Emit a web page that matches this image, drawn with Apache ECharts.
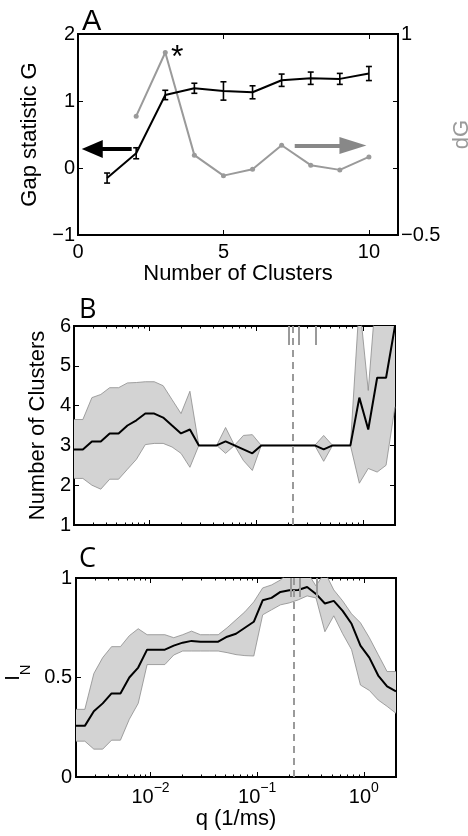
<!DOCTYPE html>
<html>
<head>
<meta charset="utf-8">
<script src="https://cdn.jsdelivr.net/npm/echarts@6/dist/echarts.min.js"></script>
<style>
  html, body { margin: 0; padding: 0; background: #fff; }
  #chart { width: 468px; height: 836px; }
</style>
</head>
<body>
<div id="chart"></div>
<script>
// ---- panel A: gap statistic ----
var nClusters = [1, 2, 3, 4, 5, 6, 7, 8, 9, 10];
var gapG = [-0.15, 0.22, 1.09, 1.19, 1.15, 1.13, 1.31, 1.34, 1.33, 1.41];
var gapErr = [0.075, 0.082, 0.07, 0.075, 0.137, 0.097, 0.092, 0.092, 0.082, 0.105];
var dGx = [2, 3, 4, 5, 6, 7, 8, 9, 10];
var dGv = [0.387, 0.862, 0.096, -0.057, -0.009, 0.17, 0.021, -0.014, 0.083];
// arrows: [tail x, head x, y on left axis]
var arrowLeft = [1.845, 0.49, 0.285];
var arrowRight = [7.45, 9.45, 0.335];

// ---- panels B and C: vs q (1/ms) ----
var qVals = [0.00200, 0.00242, 0.00294, 0.00356, 0.00431, 0.00522, 0.00632, 0.00766, 0.00928,
  0.01125, 0.01362, 0.01650, 0.02000, 0.02423, 0.02936, 0.03557, 0.04310, 0.05221, 0.06325,
  0.07663, 0.09284, 0.1125, 0.1362, 0.1650, 0.2000, 0.2423, 0.2936, 0.3557, 0.4310, 0.5221,
  0.6325, 0.7663, 0.9284, 1.125, 1.362, 1.650, 2.000];

var nClustMean = [2.9, 2.9, 3.1, 3.1, 3.3, 3.3, 3.5, 3.63, 3.8, 3.8, 3.7, 3.5, 3.3, 3.4, 3.0, 3.0, 3.0, 3.1, 3.0,
  2.9, 2.8, 3.0, 3.0, 3.0, 3.0, 3.0, 3.0, 3.0, 2.9, 3.0, 3.0, 3.0, 4.2, 3.4, 4.7, 4.7, 6.0];
var nClustHi = [3.65, 3.65, 4.2, 4.28, 4.45, 4.45, 4.57, 4.58, 4.6, 4.6, 4.5, 4.15, 3.8, 4.36, 3.0, 3.0, 3.0, 3.45, 3.0,
  3.25, 3.27, 3.0, 3.0, 3.0, 3.0, 3.0, 3.0, 3.0, 3.25, 3.0, 3.0, 3.0, 6.6, 4.38, 7.2, 7.5, 7.5];
var nClustLo = [2.17, 2.17, 2.0, 1.9, 2.15, 2.15, 2.4, 2.65, 3.02, 3.05, 3.05, 2.96, 2.8, 2.45, 3.0, 3.0, 3.0, 2.8, 3.0,
  2.62, 2.37, 3.0, 3.0, 3.0, 3.0, 3.0, 3.0, 3.0, 2.6, 3.0, 3.0, 3.0, 2.05, 2.42, 2.33, 2.5, 3.97];

var infoMean = [0.257, 0.257, 0.33, 0.37, 0.42, 0.42, 0.50, 0.55, 0.64, 0.64, 0.64, 0.66, 0.675, 0.684, 0.68, 0.68, 0.68, 0.705, 0.72,
  0.75, 0.78, 0.888, 0.90, 0.93, 0.938, 0.94, 0.955, 0.92, 0.872, 0.885, 0.835, 0.77, 0.66, 0.60, 0.51, 0.455, 0.43];
var infoHi = [0.34, 0.34, 0.52, 0.60, 0.655, 0.655, 0.71, 0.745, 0.715, 0.715, 0.715, 0.70, 0.715, 0.733, 0.715, 0.715, 0.715, 0.75, 0.79,
  0.83, 0.88, 0.95, 0.965, 0.99, 1.03, 1.04, 1.03, 0.96, 1.03, 0.94, 0.885, 0.82, 0.775, 0.70, 0.615, 0.53, 0.53];
var infoLo = [0.18, 0.18, 0.14, 0.14, 0.185, 0.185, 0.29, 0.37, 0.565, 0.565, 0.565, 0.613, 0.633, 0.633, 0.633, 0.633, 0.633, 0.625, 0.615,
  0.61, 0.608, 0.815, 0.84, 0.865, 0.875, 0.89, 0.91, 0.90, 0.73, 0.81, 0.72, 0.64, 0.462, 0.435, 0.387, 0.355, 0.32];

var qDashed = 0.223;
var qMarks = [0.205, 0.25, 0.36];

var qMajor = [0.01, 0.1, 1];
var qMinor = [0.003, 0.004, 0.005, 0.006, 0.007, 0.008, 0.009,
  0.02, 0.03, 0.04, 0.05, 0.06, 0.07, 0.08, 0.09,
  0.2, 0.3, 0.4, 0.5, 0.6, 0.7, 0.8, 0.9];

var FONT = 'Liberation Sans';
var BAND = '#d3d3d3';
var EDGE = '#8c8c8c';
var GRAY = '#9a9a9a';

function minus(v) { return String(v).replace('-', '\u2212'); }
function pairs(xs, ys) { return xs.map(function (x, i) { return [x, ys[i]]; }); }
function ticks(len, custom) {
  var t = { show: true, inside: true, length: len, lineStyle: { color: '#000', width: 1 } };
  if (custom) t.customValues = custom;
  return t;
}
var noLine = { show: false, onZero: false };

// log x axes (major + minor, bottom + top) for one grid
function logAxes(grid, withLabels) {
  var base = { type: 'log', logBase: 10, min: 0.002, max: 2, gridIndex: grid,
    axisLine: noLine, splitLine: { show: false } };
  var lab = { show: false };
  if (withLabels) {
    lab = {
      show: true, customValues: qMajor, margin: 4,
      formatter: function (v) { return '{b|10}{s|' + minus(Math.round(Math.log10(v))) + '}'; },
      rich: {
        b: { fontSize: 20, fontFamily: FONT, color: '#000', padding: [6, 0, 0, 0], verticalAlign: 'bottom' },
        s: { fontSize: 14, fontFamily: FONT, color: '#000', verticalAlign: 'top' }
      }
    };
  }
  return [
    Object.assign({}, base, { position: 'bottom', axisTick: ticks(5, qMajor), axisLabel: lab }),
    Object.assign({}, base, { position: 'bottom', axisTick: ticks(2.5, qMinor), axisLabel: { show: false } }),
    Object.assign({}, base, { position: 'top', axisTick: ticks(5, qMajor), axisLabel: { show: false } }),
    Object.assign({}, base, { position: 'top', axisTick: ticks(2.5, qMinor), axisLabel: { show: false } })
  ];
}

function markLines(top, len) {
  return {
    silent: true, animation: false, symbol: 'none', label: { show: false },
    lineStyle: { color: GRAY, width: 2, type: 'solid' },
    data: [{ xAxis: qDashed, lineStyle: { type: [7, 5], color: GRAY, width: 2 } }].concat(
      qMarks.map(function (q) { return [{ coord: [q, top] }, { coord: [q, top - len] }]; }))
  };
}

// shaded band (lo..hi) as one polygon, its two thin edges, and the mean line
function bandSeries(xi, yi, lo, hi, mean, marks) {
  return [
    { type: 'custom', xAxisIndex: xi, yAxisIndex: yi, clip: true, silent: true, z: 1,
      data: qVals.map(function (q, i) { return [q, lo[i], hi[i]]; }),
      encode: { x: 0, y: [1, 2] },
      renderItem: function (params, api) {
        if (params.dataIndex !== 0) return;
        var pts = [], i;
        for (i = 0; i < qVals.length; i++) pts.push(api.coord([qVals[i], hi[i]]));
        for (i = qVals.length - 1; i >= 0; i--) pts.push(api.coord([qVals[i], lo[i]]));
        var cs = params.coordSys;
        return { type: 'polygon', shape: { points: pts }, style: { fill: BAND, stroke: null },
          clipPath: { type: 'rect', shape: { x: cs.x, y: cs.y, width: cs.width, height: cs.height } } };
      } },
    { type: 'line', xAxisIndex: xi, yAxisIndex: yi, data: pairs(qVals, lo),
      symbol: 'none', lineStyle: { color: EDGE, width: 0.8 }, animation: false, z: 2 },
    { type: 'line', xAxisIndex: xi, yAxisIndex: yi, data: pairs(qVals, hi),
      symbol: 'none', lineStyle: { color: EDGE, width: 0.8 }, animation: false, z: 2 },
    { type: 'line', xAxisIndex: xi, yAxisIndex: yi, data: pairs(qVals, mean),
      symbol: 'none', lineStyle: { color: '#000', width: 2 }, animation: false, z: 3,
      markLine: marks }
  ];
}

var axisName = { fontSize: 22, fontFamily: FONT, color: '#000' };
var tickLab = { fontSize: 20, fontFamily: FONT, color: '#000' };

var option = {
  backgroundColor: '#fff',
  animation: false,
  textStyle: { fontFamily: FONT },
  title: [
    { text: 'A', left: 77, top: 2, textStyle: { fontSize: 29, fontWeight: 'normal', fontFamily: FONT, color: '#000' } },
    { text: 'B', left: 74, top: 292, textStyle: { fontSize: 27, fontWeight: 'normal', fontFamily: 'Open Sans', color: '#000' } },
    { text: 'C', left: 74, top: 541, textStyle: { fontSize: 27, fontWeight: 'normal', fontFamily: 'Open Sans', color: '#000' } }
  ],
  grid: [
    { left: 78, top: 34, width: 320, height: 201, show: true, borderColor: '#000', borderWidth: 2, backgroundColor: 'transparent', outerBoundsMode: 'none' },
    { left: 74, top: 326, width: 321, height: 199, show: true, borderColor: '#000', borderWidth: 2, backgroundColor: 'transparent', outerBoundsMode: 'none' },
    { left: 76, top: 578, width: 320, height: 199, show: true, borderColor: '#000', borderWidth: 2, backgroundColor: 'transparent', outerBoundsMode: 'none' }
  ],
  xAxis: [
    { type: 'value', gridIndex: 0, position: 'bottom', min: 0, max: 11, interval: 5,
      name: 'Number of Clusters', nameLocation: 'middle', nameGap: 27, nameTextStyle: axisName,
      axisLine: noLine, splitLine: { show: false }, axisTick: ticks(5),
      axisLabel: Object.assign({ margin: 7, showMaxLabel: false }, tickLab) },
    { type: 'value', gridIndex: 0, position: 'top', min: 0, max: 11, interval: 5,
      axisLine: noLine, splitLine: { show: false }, axisTick: ticks(5), axisLabel: { show: false } }
  ].concat(logAxes(1, false)).concat(logAxes(2, true)),
  yAxis: [
    { type: 'value', gridIndex: 0, position: 'left', min: -1, max: 2, interval: 1,
      name: 'Gap statistic G', nameLocation: 'middle', nameGap: 33, nameRotate: 90, nameTextStyle: axisName,
      axisLine: noLine, splitLine: { show: false }, axisTick: ticks(5),
      axisLabel: Object.assign({ margin: 3, formatter: minus }, tickLab) },
    { type: 'value', gridIndex: 0, position: 'right', min: -0.5, max: 1, interval: 0.5,
      name: 'dG', nameLocation: 'middle', nameGap: 53, nameRotate: 90,
      nameTextStyle: Object.assign({}, axisName, { color: GRAY }),
      axisLine: noLine, splitLine: { show: false }, axisTick: ticks(5),
      axisLabel: Object.assign({ margin: 3, formatter: function (v) { return (v === 1 || v === -0.5) ? minus(v) : ''; } }, tickLab) },
    { type: 'value', gridIndex: 1, position: 'left', min: 1, max: 6, interval: 1,
      name: 'Number of Clusters', nameLocation: 'middle', nameGap: 21, nameRotate: 90, nameTextStyle: axisName,
      axisLine: noLine, splitLine: { show: false }, axisTick: ticks(5),
      axisLabel: Object.assign({ margin: 3 }, tickLab) },
    { type: 'value', gridIndex: 1, position: 'right', min: 1, max: 6, interval: 1,
      axisLine: noLine, splitLine: { show: false }, axisTick: ticks(5), axisLabel: { show: false } },
    { type: 'value', gridIndex: 2, position: 'left', min: 0, max: 1, interval: 0.5,
      name: '{i|I}{n|N}', nameLocation: 'middle', nameGap: 42, nameRotate: 90,
      nameTextStyle: { padding: [0, 0, 0, 10], rich: {
        i: { fontSize: 20, fontFamily: FONT, color: '#000', verticalAlign: 'top' },
        n: { fontSize: 15, fontFamily: FONT, color: '#000', padding: [15, 0, 0, 0], verticalAlign: 'top' }
      } },
      axisLine: noLine, splitLine: { show: false }, axisTick: ticks(5),
      axisLabel: Object.assign({ margin: 4 }, tickLab) },
    { type: 'value', gridIndex: 2, position: 'right', min: 0, max: 1, interval: 0.5,
      axisLine: noLine, splitLine: { show: false }, axisTick: ticks(5), axisLabel: { show: false } }
  ],
  series: [
    { type: 'line', xAxisIndex: 0, yAxisIndex: 0, data: pairs(nClusters, gapG),
      symbol: 'none', lineStyle: { color: '#000', width: 2 }, z: 4,
      markLine: {
        silent: true, animation: false, label: { show: false },
        data: [
          [{ coord: [arrowLeft[0], arrowLeft[2]], symbol: 'none', lineStyle: { color: '#000', width: 4, type: 'solid' } },
           { coord: [arrowLeft[1], arrowLeft[2]], symbol: 'triangle', symbolSize: [18, 21] }],
          [{ coord: [arrowRight[0], arrowRight[2]], symbol: 'none', lineStyle: { color: '#888', width: 4, type: 'solid' } },
           { coord: [arrowRight[1], arrowRight[2]], symbol: 'triangle', symbolSize: [17, 27] }]
        ]
      } },
    { type: 'custom', xAxisIndex: 0, yAxisIndex: 0, z: 5,
      data: nClusters.map(function (x, i) { return [x, gapG[i], gapErr[i]]; }),
      encode: { x: 0, y: 1 },
      renderItem: function (params, api) {
        var x = api.value(0), y = api.value(1), e = api.value(2);
        var t = api.coord([x, y + e]), b = api.coord([x, y - e]);
        var st = { stroke: '#000', lineWidth: 1.6 };
        return { type: 'group', children: [
          { type: 'line', shape: { x1: t[0], y1: t[1], x2: b[0], y2: b[1] }, style: st },
          { type: 'line', shape: { x1: t[0] - 3, y1: t[1], x2: t[0] + 3, y2: t[1] }, style: st },
          { type: 'line', shape: { x1: b[0] - 3, y1: b[1], x2: b[0] + 3, y2: b[1] }, style: st }
        ] };
      } },
    { type: 'line', xAxisIndex: 0, yAxisIndex: 1, data: pairs(dGx, dGv),
      symbol: 'circle', symbolSize: 5, itemStyle: { color: GRAY }, lineStyle: { color: GRAY, width: 2 }, z: 3,
      markPoint: {
        silent: true, animation: false, symbol: 'circle', symbolSize: 0,
        data: [{ coord: [dGx[1], dGv[1]] }],
        label: { show: true, formatter: '*', fontSize: 32, fontFamily: FONT, color: '#000', offset: [12, 6] }
      } }
  ].concat(bandSeries(2, 2, nClustLo, nClustHi, nClustMean, markLines(6, 0.48)))
   .concat(bandSeries(6, 4, infoLo, infoHi, infoMean, markLines(1, 0.095)))
};

// x-axis name of panel C
option.xAxis[6].name = 'q (1/ms)';
option.xAxis[6].nameLocation = 'middle';
option.xAxis[6].nameGap = 27;
option.xAxis[6].nameTextStyle = axisName;

var chart = echarts.init(document.getElementById('chart'));
chart.setOption(option);
</script>
</body>
</html>
